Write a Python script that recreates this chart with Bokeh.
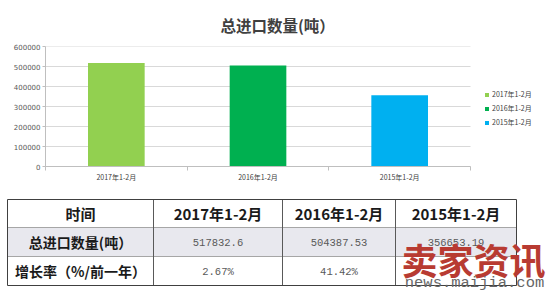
from bokeh.plotting import figure
from bokeh.models import (Range1d, FixedTicker, Legend, LegendItem,
                          NumeralTickFormatter)
from bokeh.core.properties import value
from bokeh.embed import file_html
from bokeh.resources import INLINE

# ---- data ----
title_text = "总进口数量(吨）"
categories = ["2017年1-2月", "2016年1-2月", "2015年1-2月"]
imports = [517832.6, 504387.53, 356653.19]
growth = ["2.67%", "41.42%", ""]
y_ticks = [0, 100000, 200000, 300000, 400000, 500000, 600000]
bar_colors = ["#92d050", "#00b050", "#00b0f0"]
table_header = "时间"
row_labels = ["总进口数量(吨）", "增长率（%/前一年）"]
watermark_big = "卖家资讯"
watermark_small = "news.maijia.com"

CJK = "Noto Sans CJK SC"

# ---- chart ----
# plot frame spans x 45..550; the category area covers 45..470, legend sits to the right
n = len(categories)
frame_left, cat_right, canvas_w = 45, 470, 550
x_end = n * (canvas_w - frame_left) / (cat_right - frame_left)

p = figure(width=canvas_w, height=190, x_range=Range1d(0, x_end),
           y_range=Range1d(y_ticks[0], y_ticks[-1]),
           output_backend="svg", toolbar_location=None,
           min_border_left=frame_left, min_border_right=0, min_border_top=43,
           min_border_bottom=24, title=title_text)
p.title.align = "left"
p.title.offset = 175
p.title.text_font = CJK
p.title.text_font_size = "15.5px"
p.title.text_font_style = "bold"
p.title.text_color = "#404040"
p.title.standoff = 22
p.outline_line_color = None
p.background_fill_color = "white"
p.border_fill_color = "white"

# horizontal gridlines limited to the category area
p.xgrid.grid_line_color = None
p.ygrid.grid_line_color = None
p.segment(x0=[0] * len(y_ticks), x1=[n] * len(y_ticks), y0=y_ticks, y1=y_ticks,
          line_color="#d9d9d9", line_width=1)

xs = [i + 0.5 for i in range(n)]
renderers = []
for i in range(n):
    r = p.vbar(x=[xs[i]], top=[imports[i]], width=0.4, fill_color=bar_colors[i],
               line_color=None)
    renderers.append(r)

legend = Legend(items=[LegendItem(label=categories[i], renderers=[renderers[i]])
                       for i in range(n)])
legend.location = (439, 39)
legend.border_line_color = None
legend.background_fill_alpha = 0
legend.label_text_font = CJK
legend.label_text_font_size = "7px"
legend.label_text_color = "#404040"
legend.glyph_width = 5
legend.glyph_height = 5
legend.label_height = 7
legend.label_standoff = 3
legend.spacing = 4
legend.padding = 0
legend.margin = 0
p.add_layout(legend)

p.xaxis.ticker = FixedTicker(ticks=xs, minor_ticks=list(range(n + 1)))
p.xaxis.major_label_overrides = {xs[i]: categories[i] for i in range(n)}
p.xaxis.bounds = (0, n)
p.xaxis.axis_line_color = "#bfbfbf"
p.xaxis.major_tick_line_color = None
p.xaxis.major_tick_out = 0
p.xaxis.major_tick_in = 0
p.xaxis.minor_tick_line_color = "#bfbfbf"
p.xaxis.minor_tick_out = 4
p.xaxis.minor_tick_in = 0
p.xaxis.major_label_text_font = CJK
p.xaxis.major_label_text_font_size = "7px"
p.xaxis.major_label_text_color = "#404040"
p.xaxis.major_label_standoff = 1

p.yaxis.ticker = FixedTicker(ticks=y_ticks)
p.yaxis.formatter = NumeralTickFormatter(format="0")
p.yaxis.axis_line_color = "#bfbfbf"
p.yaxis.major_tick_line_color = "#bfbfbf"
p.yaxis.major_tick_out = 3
p.yaxis.major_tick_in = 0
p.yaxis.minor_tick_line_color = None
p.yaxis.major_label_text_font = "DejaVu Sans"
p.yaxis.major_label_text_font_size = "7px"
p.yaxis.major_label_text_color = "#595959"
p.yaxis.major_label_standoff = 2

# ---- table ----
t = figure(width=canvas_w, height=101, x_range=Range1d(0, canvas_w), y_range=Range1d(101, 0),
           output_backend="svg", toolbar_location=None, min_border=0)
t.axis.visible = False
t.grid.grid_line_color = None
t.outline_line_color = None
t.background_fill_color = "white"
t.border_fill_color = "white"

col_edges = [7, 153, 282, 395, 516]
row_edges = [9, 37, 66, 95]

t.quad(left=[col_edges[0]], right=[col_edges[-1]], top=[row_edges[1]], bottom=[row_edges[2]],
       fill_color="#e8e8ee", line_color=None)
t.segment(x0=[col_edges[0]] * 2, x1=[col_edges[-1]] * 2, y0=row_edges[1:3], y1=row_edges[1:3],
          line_color="#a6a6a6", line_width=1)
t.segment(x0=col_edges[1:-1], x1=col_edges[1:-1], y0=[row_edges[0]] * 3, y1=[row_edges[-1]] * 3,
          line_color="#595959", line_width=1)
t.quad(left=[col_edges[0]], right=[col_edges[-1]], top=[row_edges[0]], bottom=[row_edges[-1]],
       fill_color=None, line_color="#404040", line_width=1)

centers_x = [(col_edges[i] + col_edges[i + 1]) / 2 for i in range(len(col_edges) - 1)]
centers_y = [(row_edges[i] + row_edges[i + 1]) / 2 for i in range(len(row_edges) - 1)]

t.text(x=centers_x, y=[centers_y[0]] * 4, text=[table_header] + categories,
       text_font=value(CJK), text_font_size="15px", text_font_style="bold",
       text_color="#1a1a1a", text_align="center", text_baseline="middle")
t.text(x=[centers_x[0]] * 2, y=centers_y[1:], text=row_labels,
       text_font=value(CJK), text_font_size="14px", text_font_style="bold",
       text_color="#1a1a1a", text_align="center", text_baseline="middle")
t.text(x=centers_x[1:], y=[centers_y[1]] * 3, text=[str(v) for v in imports],
       text_font=value("Liberation Mono"), text_font_size="10.5px",
       text_color="#595959", text_align="center", text_baseline="middle")
t.text(x=centers_x[1:], y=[centers_y[2] + 1] * 3, text=growth,
       text_font=value("Liberation Mono"), text_font_size="10.5px",
       text_color="#595959", text_align="center", text_baseline="middle")

t.text(x=[473], y=[68], text=[watermark_big], text_font=value(CJK), text_font_size="36px",
       text_font_style="bold", text_color="#b83b32", text_align="center",
       text_baseline="middle")
t.text(x=[474], y=[92], text=[watermark_small], text_font=value("Liberation Mono"),
       text_font_size="15.5px", text_color="#666666", text_align="center",
       text_baseline="middle")

open("out.html", "w").write(file_html([p, t], INLINE))
